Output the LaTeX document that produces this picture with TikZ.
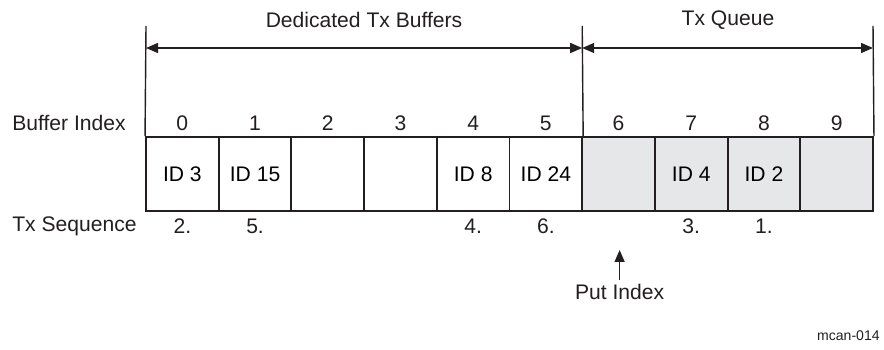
\documentclass[tikz,border=0pt]{standalone}
\usepackage{fontspec}
\setmainfont{Liberation Sans}
\usetikzlibrary{arrows.meta}
\definecolor{qgray}{RGB}{230,231,232}
\definecolor{txtgray}{RGB}{35,31,32}
\tikzset{
  cell/.style={draw=txtgray,line width=1.1pt,minimum width=1.454cm,minimum height=1.48cm,inner sep=0pt,font=\fontsize{12}{14}\selectfont},
  qcell/.style={cell,fill=qgray},
  lbl/.style={inner sep=0pt,font=\fontsize{12}{14}\selectfont,text=txtgray},
  dim/.style={line width=0.8pt,draw=txtgray,{Triangle[length=2.4mm,width=2mm]}-{Triangle[length=2.4mm,width=2mm]}}
}
\begin{document}
\begin{tikzpicture}[x=0.02cm,y=-0.02cm]
  \useasboundingbox (0,0) rectangle (884,350);
  % Buffer cells
  \foreach \i/\t in {0/ID 3,1/ID 15,2/,3/,4/ID 8,5/ID 24}
    \node[cell] (c\i) at ({182.35+72.7*\i},174) {\t};
  \foreach \i/\t in {6/,7/ID 4,8/ID 2,9/}
    \node[qcell] (c\i) at ({182.35+72.7*\i},174) {\t};
  % Buffer index and sequence
  \foreach \i in {0,...,9}
    \node[lbl] (n\i) at ({182.35+72.7*\i},123) {\i};
  \foreach \i/\s in {0/2.,1/5.,4/4.,5/6.,7/3.,8/1.}
    \node[lbl] (s\i) at ({182.35+72.7*\i},226) {\s};
  \node[lbl,anchor=west] (bidx) at (12,123) {Buffer Index};
  \node[lbl,anchor=west] (tseq) at (12,226) {Tx Sequence};
  % Range markers
  \coordinate (lt) at (146,26);
  \coordinate (mt) at (582.2,26);
  \coordinate (rt) at (873,26);
  \draw[line width=0.8pt,txtgray] (lt) -- (c0.north west);
  \draw[line width=0.8pt,txtgray] (mt) -- (c5.north east);
  \draw[line width=0.8pt,txtgray] (rt) -- (c9.north east);
  \coordinate (la) at (146,48);
  \coordinate (ma) at (582.2,48);
  \coordinate (ra) at (873,48);
  \draw[dim] (la) -- (ma);
  \draw[dim] (ma) -- (ra);
  \node[lbl] (ded) at (364,20) {Dedicated Tx Buffers};
  \node[lbl] (que) at (728,20) {Tx Queue};
  % Put index
  \node[lbl] (put) at (619.6,292) {Put Index};
  \coordinate (ptip) at (619.6,250);
  \draw[line width=0.8pt,txtgray,-{Triangle[length=2.4mm,width=2mm]}] (put.north) ++(0,-4) -- (ptip);
  \node[lbl,anchor=east,font=\fontsize{8}{10}\selectfont] (fig) at (880,336) {mcan-014};
\end{tikzpicture}
\end{document}
